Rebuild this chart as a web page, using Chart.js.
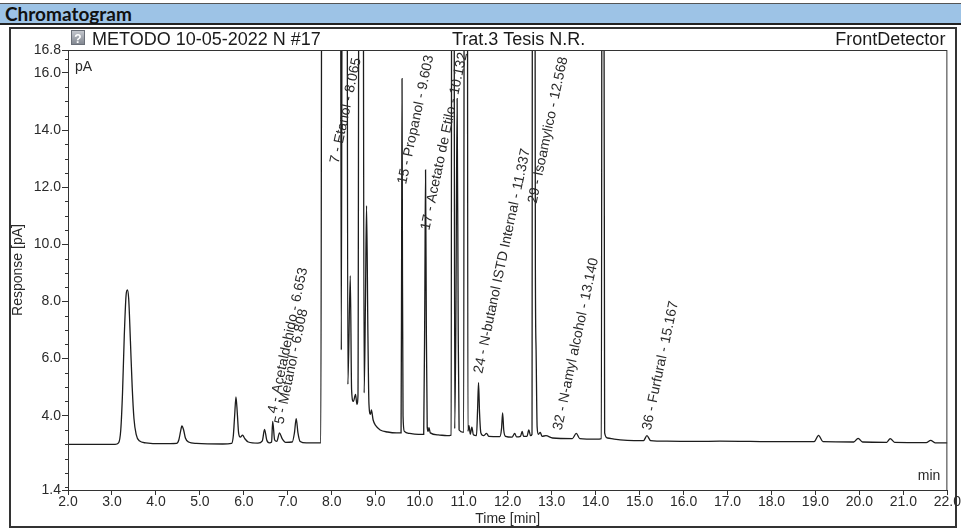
<!DOCTYPE html>
<html>
<head>
<meta charset="utf-8">
<script src="https://cdn.jsdelivr.net/npm/chart.js@4/dist/chart.umd.min.js"></script>
<style>
  html, body { margin: 0; padding: 0; background: #fff; }
  #page { position: relative; width: 961px; height: 530px; overflow: hidden; }
  #hdr { position: absolute; left: 0; top: 3px; width: 961px; height: 19px; background: #9DC3E6;
         border-top: 1px solid #555; border-bottom: 2px solid #222;
         font: bold 19px Lato, "Open Sans", sans-serif; color: #111; line-height: 19px; padding-left: 5px; box-sizing: content-box; }
  #frame { position: absolute; left: 9px; top: 27px; width: 944px; height: 497px; border: 2px solid #333; }
  #c { position: absolute; left: 0; top: 0; }
</style>
</head>
<body>
<div id="page">
  <div id="hdr">Chromatogram</div>
  <div id="frame"></div>
  <canvas id="c" width="961" height="530"></canvas>
</div>
<script>
// ---- data ----
const times = [2.00,2.60,3.07,3.15,3.20,3.24,3.28,3.32,3.35,3.38,3.42,3.46,3.50,3.55,3.62,3.77,4.12,4.47,4.52,4.56,4.59,4.63,4.67,4.74,4.92,5.52,5.72,5.76,5.79,5.82,5.85,5.88,5.92,5.97,6.02,6.10,6.32,6.42,6.47,6.52,6.58,6.63,6.655,6.70,6.75,6.81,6.87,6.95,7.10,7.15,7.19,7.23,7.28,7.42,7.75,7.78,8.19,8.216,8.245,8.34,8.365,8.42,8.45,8.49,8.54,8.57,8.595,8.625,8.705,8.735,8.765,8.79,8.82,8.845,8.88,8.90,8.94,9.00,9.10,9.27,9.47,9.575,9.587,9.597,9.607,9.62,9.65,9.77,9.97,10.09,10.115,10.132,10.15,10.17,10.19,10.21,10.24,10.42,10.62,10.715,10.73,10.775,10.795,10.82,10.85,10.875,10.895,11.00,11.015,11.08,11.095,11.12,11.15,11.185,11.22,11.29,11.315,11.337,11.36,11.39,11.45,11.52,11.57,11.82,11.86,11.885,11.91,11.95,12.10,12.16,12.20,12.29,12.33,12.36,12.44,12.48,12.52,12.553,12.566,12.613,12.63,12.646,12.67,12.70,12.74,12.78,12.87,13.02,13.47,13.56,13.64,14.02,14.13,14.15,14.18,14.205,14.27,14.42,14.72,15.09,15.167,15.25,15.62,16.32,16.82,17.52,18.22,18.97,19.07,19.17,19.87,19.97,20.07,20.62,20.70,20.80,21.52,21.62,21.72,22.00];
const response = [3.00,3.00,3.00,3.05,3.5,4.8,6.8,8.2,8.4,8.1,6.6,5.0,3.9,3.35,3.12,3.05,3.02,3.03,3.15,3.45,3.64,3.5,3.22,3.08,3.03,3.01,3.03,3.3,4.0,4.66,4.1,3.4,3.25,3.32,3.2,3.08,3.04,3.12,3.52,3.15,3.05,3.08,3.8,3.15,3.1,3.4,3.2,3.07,3.08,3.4,3.9,3.4,3.1,3.05,3.05,30,30,6.3,30,30,5.1,8.9,4.9,4.5,4.75,4.4,4.7,30,30,4.8,8,11.35,7,4.4,4.05,4.2,3.85,3.65,3.5,3.43,3.4,3.4,9,15.8,9,4.0,3.45,3.38,3.35,3.35,8,12.6,7,3.6,3.45,3.58,3.4,3.33,3.3,3.32,30,30,3.55,7,15.1,7,3.5,3.42,30,30,3.45,3.65,3.35,3.6,3.33,3.3,4.2,5.16,4.1,3.4,3.3,3.38,3.28,3.27,3.55,4.1,3.5,3.28,3.25,3.38,3.26,3.28,3.45,3.28,3.28,3.5,3.3,3.35,30,30,9.1,6.3,3.6,3.35,3.42,3.28,3.3,3.22,3.2,3.38,3.2,3.18,3.2,30,30,3.4,3.22,3.18,3.14,3.13,3.3,3.13,3.11,3.1,3.11,3.1,3.09,3.09,3.31,3.09,3.08,3.21,3.08,3.07,3.2,3.07,3.06,3.14,3.05,3.05];

const xTickValues = [2,3,4,5,6,7,8,9,10,11,12,13,14,15,16,17,18,19,20,21,22];
const yTickValues = [1.4,4.0,6.0,8.0,10.0,12.0,14.0,16.0,16.8];
const yMinorValues = [1.5,2.0,2.5,3.0,3.5,4.5,5.0,5.5,6.5,7.0,7.5,8.5,9.0,9.5,10.5,11.0,11.5,12.5,13.0,13.5,14.5,15.0,15.5,16.5];

const peakIds = [4,5,7,15,17,24,29,32,36];
const peakNames = ['Acetaldehido','Metanol','Etanol','Propanol','Acetato de Etilo','N-butanol ISTD Internal','Isoamylico','N-amyl alcohol','Furfural'];
const retentionTimes = [6.653,6.808,8.065,9.603,10.132,11.337,12.568,13.140,15.167];
const labelLevels = [4.09,3.71,12.84,12.11,10.5,5.49,11.44,3.5,3.5];

const titleLeft = 'METODO 10-05-2022 N #17';
const titleCenter = 'Trat.3 Tesis N.R.';
const titleRight = 'FrontDetector';

const points = times.map((t, i) => ({ x: t, y: response[i] }));
const FONT = '"Liberation Sans", Arial, sans-serif';
const INK = '#2a2a2a';

const decor = {
  id: 'decor',
  afterDraw(chart) {
    const { ctx, chartArea: a, scales: { x, y } } = chart;
    ctx.save();
    // plot frame
    ctx.strokeStyle = '#333';
    ctx.lineWidth = 1;
    ctx.strokeRect(a.left + 0.5, a.top + 0.5, a.right - a.left - 1, a.bottom - a.top);
    // minor y ticks
    ctx.beginPath();
    yMinorValues.forEach(v => {
      const py = Math.round(y.getPixelForValue(v)) + 0.5;
      ctx.moveTo(a.left - 3, py); ctx.lineTo(a.left, py);
    });
    ctx.stroke();
    // peak labels
    ctx.fillStyle = INK;
    ctx.font = '14px ' + FONT;
    ctx.textAlign = 'left';
    ctx.textBaseline = 'middle';
    peakIds.forEach((id, i) => {
      const txt = id + ' - ' + peakNames[i] + ' - ' + retentionTimes[i].toFixed(3);
      const px = x.getPixelForValue(retentionTimes[i]);
      const py = y.getPixelForValue(labelLevels[i]);
      ctx.save();
      ctx.translate(px, py);
      ctx.rotate(-78 * Math.PI / 180);
      ctx.fillText(txt, 0, 0);
      ctx.restore();
    });
    // units
    ctx.textBaseline = 'alphabetic';
    ctx.fillText('pA', a.left + 7, a.top + 21);
    ctx.textAlign = 'right';
    ctx.fillText('min', a.right - 7, a.bottom - 10);
    // header titles
    ctx.font = '18px ' + FONT;
    ctx.fillStyle = '#1a1a1a';
    ctx.textAlign = 'left';
    ctx.fillText(titleLeft, a.left + 24, a.top - 5);
    ctx.fillText(titleCenter, 452, a.top - 5);
    ctx.textAlign = 'right';
    ctx.fillText(titleRight, a.right - 2, a.top - 5);
    // small document icon
    const ix = a.left + 3, iy = a.top - 20;
    const g = ctx.createLinearGradient(ix, iy, ix, iy + 15);
    g.addColorStop(0, '#c9ccd2'); g.addColorStop(1, '#7d838d');
    ctx.fillStyle = g;
    ctx.fillRect(ix, iy, 14, 15);
    ctx.strokeStyle = '#6a6f78';
    ctx.strokeRect(ix + 0.5, iy + 0.5, 13, 14);
    ctx.fillStyle = '#fff';
    ctx.font = 'bold 12px ' + FONT;
    ctx.textAlign = 'center';
    ctx.fillText('?', ix + 7, iy + 13);
    ctx.restore();
  }
};

new Chart(document.getElementById('c'), {
  type: 'line',
  data: {
    datasets: [{
      data: points,
      borderColor: '#1c1c1c',
      borderWidth: 1.3,
      pointRadius: 0,
      fill: false,
      cubicInterpolationMode: 'monotone'
    }]
  },
  options: {
    responsive: false,
    animation: false,
    events: [],
    layout: { padding: { top: 50, right: 12, left: 0, bottom: 0 } },
    plugins: { legend: { display: false }, tooltip: { enabled: false }, title: { display: false } },
    scales: {
      x: {
        type: 'linear', min: 2, max: 22,
        afterFit: s => { s.height = 40; },
        afterBuildTicks: s => { s.ticks = xTickValues.map(v => ({ value: v })); },
        ticks: { autoSkip: false, maxRotation: 0, padding: 0, color: INK,
                 font: { family: FONT, size: 14, lineHeight: 1 },
                 callback: v => Number(v).toFixed(1) },
        grid: { drawOnChartArea: false, tickLength: 5, tickColor: '#333', lineWidth: 1 },
        border: { display: true, color: '#333', width: 1 },
        title: { display: true, text: 'Time [min]', color: INK, font: { family: FONT, size: 14 }, padding: { top: 0, bottom: 2 } }
      },
      y: {
        type: 'linear', min: 1.4, max: 16.8,
        afterFit: s => { s.width = 68; },
        afterBuildTicks: s => { s.ticks = yTickValues.map(v => ({ value: v })); },
        ticks: { autoSkip: false, padding: 1, color: INK,
                 font: { family: FONT, size: 14 },
                 callback: v => Number(v).toFixed(1) },
        grid: { drawOnChartArea: false, tickLength: 6, tickColor: '#333', lineWidth: 1 },
        border: { display: true, color: '#333', width: 1 },
        title: { display: true, text: 'Response [pA]', color: INK, font: { family: FONT, size: 14 }, padding: { top: 10, bottom: 0 } }
      }
    }
  },
  plugins: [decor]
});
</script>
</body>
</html>
